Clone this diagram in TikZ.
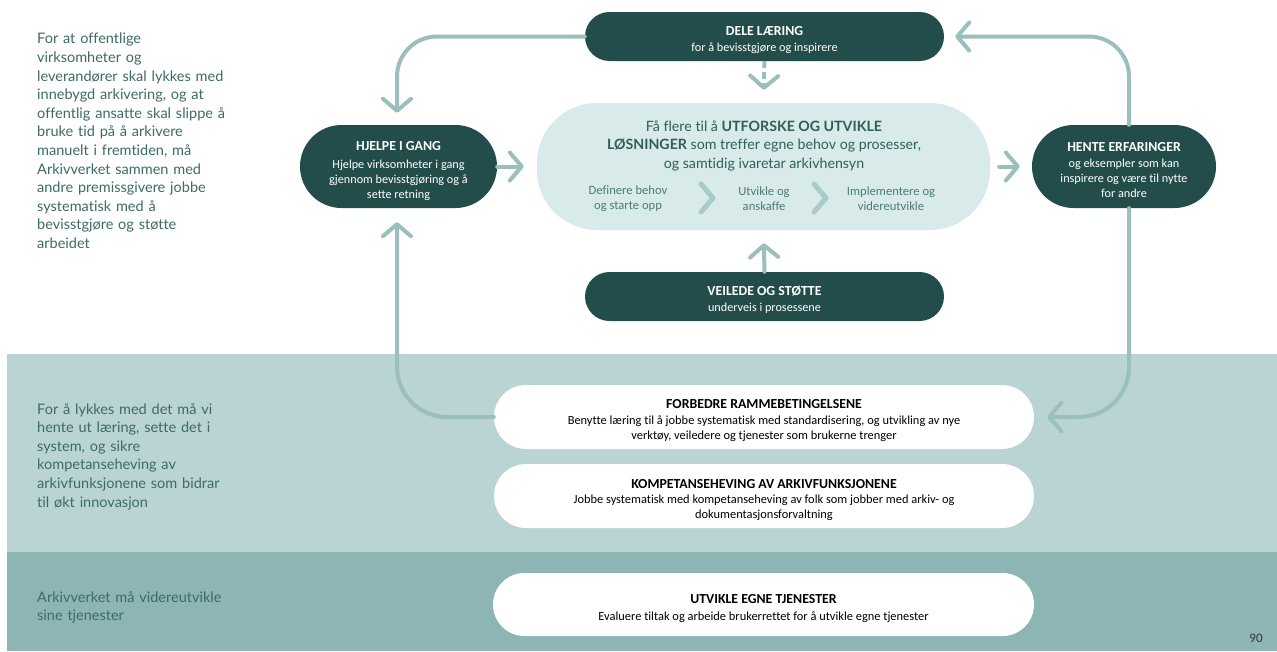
\documentclass[tikz,border=0pt]{standalone}
\usepackage{fontspec}
\setmainfont{Carlito}[Ligatures=NoCommon]
\newfontfamily\sidefont{Lato}[Ligatures=NoCommon]
\usetikzlibrary{arrows.meta}
\definecolor{darkteal}{HTML}{234D4B}
\definecolor{arrowc}{HTML}{9ABFBD}
\definecolor{bandA}{HTML}{B9D4D3}
\definecolor{bandB}{HTML}{8DB5B4}
\definecolor{midfill}{HTML}{D8EAE9}
\definecolor{sidetext}{HTML}{3D6B67}
\definecolor{midtext}{HTML}{2F5F5B}
\definecolor{subtext}{HTML}{4C7C78}
\definecolor{chev}{HTML}{A8CBCA}
\tikzset{
  darkpill/.style={fill=darkteal, text=white, inner sep=0pt, align=center,
    font=\fontsize{12.2}{14.8}\selectfont},
  whitepill/.style={fill=white, text=black, inner sep=0pt, align=center,
    minimum width=540pt, minimum height=64pt, rounded corners=32pt,
    font=\fontsize{12.4}{14.5}\selectfont},
  conn/.style={draw=arrowc, line width=4pt, line cap=round, line join=round,
    -{Straight Barb[length=12pt,width=28pt,round]}},
  sidenote/.style={anchor=north west, inner sep=0pt, align=left, text=sidetext,
    font=\sidefont\fontsize{14.5}{18.6}\selectfont},
  sublabel/.style={inner sep=0pt, align=center, text=subtext,
    font=\fontsize{12.6}{15}\selectfont},
  chevline/.style={draw=chev, line width=5pt, line cap=round, line join=round}
}
\newcommand{\ttlfont}{\fontsize{13.8}{15}\selectfont\bfseries}
\newcommand{\ttl}[2][16.5pt]{\rule{0pt}{#1}{\ttlfont #2}}
\begin{document}
\begin{tikzpicture}[x=1pt,y=-1pt]
\useasboundingbox (0,0) rectangle (1277,651);
\fill[white] (0,0) rectangle (1277,651);
\fill[bandA] (7,354) rectangle (1277,552);
\fill[bandB] (7,552) rectangle (1277,651);

% side texts
\node[sidenote, text width=210pt] (s1) at (37,33) {For at offentlige\\virksomheter og\\leverandører skal lykkes med\\innebygd arkivering, og at\\offentlig ansatte skal slippe å\\bruke tid på å arkivere\\manuelt i fremtiden, må\\Arkivverket sammen med\\andre premissgivere jobbe\\systematisk med å\\bevisstgjøre og støtte\\arbeidet};
\node[sidenote, text width=210pt] (s2) at (37,403) {For å lykkes med det må vi\\hente ut læring, sette det i\\system, og sikre\\kompetanseheving av\\arkivfunksjonene som bidrar\\til økt innovasjon};
\node[sidenote, text width=210pt] (s3) at (37,591) {Arkivverket må videreutvikle\\sine tjenester};

% center pill
\node[fill=midfill, minimum width=453pt, minimum height=127pt, rounded corners=60pt, inner sep=0pt] (mid) at (763.5,166.5) {};
\node[inner sep=0pt, align=center, text=midtext, font=\sidefont\fontsize{14.2}{18.5}\selectfont] (midtxt) at (764,145.5)
 {Få flere til å \textbf{UTFORSKE OG UTVIKLE}\\\textbf{LØSNINGER} som treffer egne behov og prosesser,\\og samtidig ivaretar arkivhensyn};
\node[sublabel] (p1) at (628,198.5) {Definere behov\\og starte opp};
\node[sublabel] (p2) at (764,198.5) {Utvikle og\\anskaffe};
\node[sublabel] (p3) at (891,198.5) {Implementere og\\videreutvikle};
\draw[chevline] (701,184) -- (713,198) -- (701,212);
\draw[chevline] (814,184) -- (826,198) -- (814,212);

% dark nodes
\node[darkpill, minimum width=359pt, minimum height=49pt, rounded corners=24.5pt] (dele) at (764.5,36.5)
 {\ttl[15.5pt]{DELE LÆRING}\\[1pt]for å bevisstgjøre og inspirere};
\node[darkpill, minimum width=359pt, minimum height=49pt, rounded corners=24.5pt] (veil) at (764.5,296.5)
 {\ttl[16pt]{VEILEDE OG STØTTE}\\[1pt]underveis i prosessene};
\node[darkpill, minimum width=197pt, minimum height=83pt, rounded corners=41.5pt] (hjelpe) at (398.5,166.5)
 {\ttl[18pt]{HJELPE I GANG}\\[3pt]Hjelpe virksomheter i gang\\gjennom bevisstgjøring og å\\sette retning};
\node[darkpill, minimum width=184pt, minimum height=83pt, rounded corners=41.5pt] (hente) at (1124,166.5)
 {\ttl[15.5pt]{HENTE ERFARINGER}\\[2pt]og eksempler som kan\\inspirere og være til nytte\\for andre};

% white nodes
\node[whitepill] (forb) at (764,417)
 {\ttl[16.5pt]{FORBEDRE RAMMEBETINGELSENE}\\[1.5pt]Benytte læring til å jobbe systematisk med standardisering, og utvikling av nye\\verktøy, veiledere og tjenester som brukerne trenger};
\node[whitepill] (komp) at (764,496)
 {\ttl[17pt]{KOMPETANSEHEVING AV ARKIVFUNKSJONENE}\\[1pt]Jobbe systematisk med kompetanseheving av folk som jobber med arkiv- og\\dokumentasjonsforvaltning};
\node[whitepill, minimum width=541pt, minimum height=63pt, rounded corners=31.5pt] (utv) at (763.5,604.5)
 {\ttl[17pt]{UTVIKLE EGNE TJENESTER}\\[2pt]Evaluere tiltak og arbeide brukerrettet for å utvikle egne tjenester};

\node[inner sep=0pt, text=black!80, font=\fontsize{13}{15}\selectfont] (pg) at (1256,638) {90};

% connectors
\coordinate (rx) at (1129,0);
\coordinate (lx) at (397,0);
\draw[conn, rounded corners=40pt, shorten >=12pt] (dele.west) -- (dele.west -| lx) -- (hjelpe.north -| lx);
\draw[conn, rounded corners=40pt, shorten >=11pt] (hente.north -| rx) -- (rx |- dele.east) -- (dele.east);
\draw[conn, rounded corners=50pt, shorten >=14pt] (forb.west) -- (forb.west -| lx) -- (hjelpe.south -| lx);
\draw[conn, rounded corners=50pt, shorten >=13pt] (hente.south -| rx) -- (rx |- forb.east) -- (forb.east);
\draw[conn, shorten >=13pt] (hjelpe.east) -- (mid.west |- hjelpe.east);
\draw[conn, shorten <=9pt, shorten >=12pt] (mid.east |- hente.west) -- (hente.west);
\draw[conn, shorten >=13pt] (veil.north) -- (mid.south);
\draw[conn, dash pattern=on 7pt off 4pt, line cap=butt, shorten >=13pt] (dele.south) -- (mid.north);
\end{tikzpicture}
\end{document}
